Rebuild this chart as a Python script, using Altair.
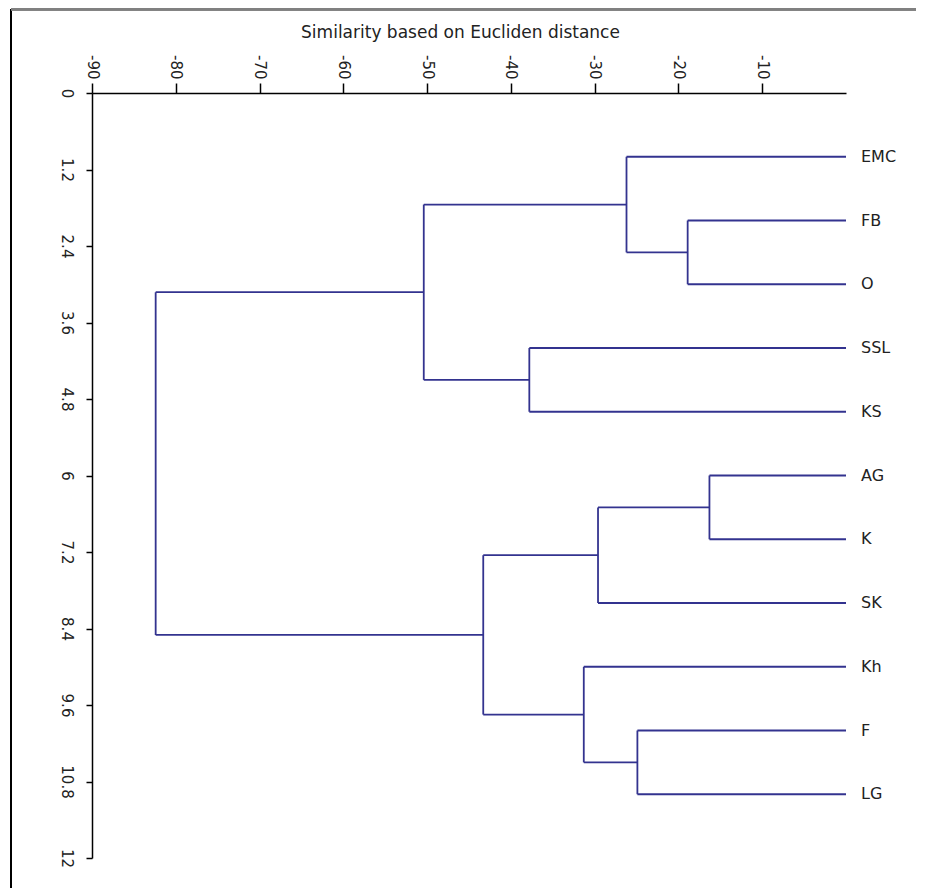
import altair as alt
import pandas as pd

# Leaves (top to bottom) and their positions on the vertical axis
leaves = ["EMC", "FB", "O", "SSL", "KS", "AG", "K", "SK", "Kh", "F", "LG"]
leaf_pos = [1, 2, 3, 4, 5, 6, 7, 8, 9, 10, 11]

# Merges (linkage): child ids (0-10 leaves, 11+ earlier merges) and merge height
merge_a = [5, 1, 9, 0, 11, 8, 3, 15, 14, 19]
merge_b = [6, 2, 10, 12, 7, 13, 4, 16, 17, 18]
merge_h = [-16.3, -18.9, -24.9, -26.2, -29.6, -31.3, -37.8, -43.3, -50.4, -82.4]

x_ticks = [-90, -80, -70, -60, -50, -40, -30, -20, -10]
y_ticks = [0, 1.2, 2.4, 3.6, 4.8, 6, 7.2, 8.4, 9.6, 10.8, 12]

# Build dendrogram segments from the linkage
node_x = [0.0] * len(leaves)
node_y = list(leaf_pos)
rows = []
for a, b, h in zip(merge_a, merge_b, merge_h):
    for c in (a, b):
        rows.append(dict(x=node_x[c], x2=h, y=node_y[c], y2=node_y[c]))
    rows.append(dict(x=h, x2=h, y=node_y[a], y2=node_y[b]))
    node_x.append(h)
    node_y.append((node_y[a] + node_y[b]) / 2)
seg = pd.DataFrame(rows)
lab = pd.DataFrame(dict(name=leaves, y=leaf_pos, x=[0.0] * len(leaves)))

W, H = 754, 765
FONT = "DejaVu Sans"

xscale = alt.Scale(domain=[-90, 0], nice=False, zero=False)
yscale = alt.Scale(domain=[0, 12], reverse=True, nice=False, zero=False)

lines = alt.Chart(seg).mark_rule(color="#33338f", strokeWidth=1.8).encode(
    x=alt.X("x:Q", scale=xscale, axis=alt.Axis(
        orient="top", values=x_ticks, labelExpr="toString(datum.value)",
        labelAngle=90, labelAlign="right",
        labelBaseline="middle", tickSize=10, labelPadding=4, grid=False,
        domainColor="black", tickColor="black", domainWidth=1.5, tickWidth=1.5,
        labelColor="#222222", labelFont=FONT, labelFontSize=15,
        title="Similarity based on Eucliden distance", titleX=368, titleY=-56,
        titleAlign="center", titleBaseline="alphabetic", titleAngle=0,
        titleFont=FONT, titleFontSize=17, titleFontWeight="normal",
        titleColor="#222222")),
    x2="x2:Q",
    y=alt.Y("y:Q", scale=yscale, axis=alt.Axis(
        values=y_ticks, format="~g", labelAngle=90, labelAlign="center",
        labelBaseline="top", tickSize=6, labelPadding=13, grid=False,
        domainColor="black", tickColor="black", domainWidth=1.5, tickWidth=1.5,
        labelColor="#222222", labelFont=FONT, labelFontSize=15, title=None)),
    y2="y2:Q",
)

texts = alt.Chart(lab).mark_text(
    align="left", baseline="middle", dx=15, font=FONT, fontSize=16, color="#222222"
).encode(x=alt.X("x:Q", scale=xscale), y=alt.Y("y:Q", scale=yscale), text="name:N")

frame_left = alt.Chart(lab).mark_rule(color="black", strokeWidth=2).encode(
    x=alt.value(-81), y=alt.value(-84), y2=alt.value(H + 40))
frame_top = alt.Chart(lab).mark_rule(color="#808080", strokeWidth=2.5).encode(
    x=alt.value(-81), x2=alt.value(W + 80), y=alt.value(-84))

chart = alt.layer(lines, texts, frame_left, frame_top).properties(
    width=W, height=H,
    background="white",
    autosize=alt.AutoSizeParams(type="none"),
    padding={"left": 84, "top": 85, "right": 70, "bottom": 30},
).configure_view(strokeWidth=0, stroke=None)

chart.save("out.html", embed_options={"renderer": "svg", "actions": False})
